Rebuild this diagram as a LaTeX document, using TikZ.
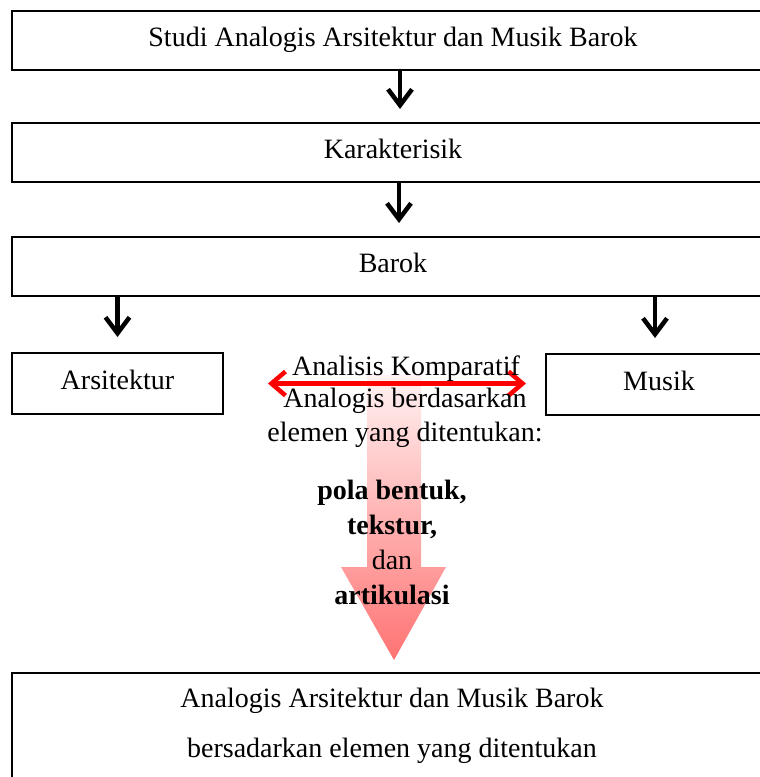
\documentclass[tikz,border=0pt]{standalone}
\usepackage{fontspec}
\setmainfont{Liberation Serif}
\usepackage{xcolor}
\usetikzlibrary{arrows.meta,positioning,calc}
\definecolor{BkHitam}{RGB}{0,0,0}
\definecolor{BkMerah}{HTML}{FF0000}
\definecolor{BkMerahMuda}{HTML}{FF7373}
\definecolor{BkPucat}{HTML}{FFF2F2}
\colorlet{BkGaris}{BkHitam}

\begin{document}
\begin{tikzpicture}[x=1pt,y=1pt,
    kotak/.style={draw=BkGaris, line width=2pt, inner sep=0pt, anchor=north west,
                  text height=19pt, text depth=7pt, font=\fontsize{28}{34}\selectfont},
    panah/.style={draw=BkGaris, line width=4.5pt,
                  -{Straight Barb[length=16pt,width=24pt]}},
    teks/.style={align=center, inner sep=0pt, font=\fontsize{28}{34}\selectfont}]
  \useasboundingbox (0,0) rectangle (760,-777);
  \clip (0,0) rectangle (760,-777);
  % panah besar bergradasi
  \shade[top color=BkPucat, bottom color=BkMerahMuda]
    (367,-375) -- (421,-375) -- (421,-567) -- (446,-567) -- (394,-660)
    -- (341,-567) -- (367,-567) -- cycle;
  \node[kotak, minimum width=762pt, minimum height=59pt] (studi) at (11,-10)
    {Studi Analogis Arsitektur dan Musik Barok};
  \node[kotak, minimum width=762pt, minimum height=59pt] (karak) at (11,-122)
    {Karakterisik};
  \node[kotak, minimum width=762pt, minimum height=59pt] (barok) at (11,-236)
    {Barok};
  \node[kotak, minimum width=211pt, minimum height=61pt] (arsi) at (11,-352)
    {Arsitektur};
  \node[kotak, minimum width=226pt, minimum height=61pt] (musik) at (545,-353)
    {Musik};
  \node[kotak, minimum width=762pt, minimum height=130pt] (hasil) at (11,-672) {};
  \draw[panah, shorten >=13pt] ([xshift=7pt]studi.south) -- ([xshift=7pt]karak.north);
  \draw[panah, shorten >=13pt] ([xshift=6pt]karak.south) -- ([xshift=6pt]barok.north);
  \draw[panah, shorten >=15pt] (barok.south -| arsi.north) -- (arsi.north);
  \draw[panah, shorten >=15pt] ([xshift=-4pt]barok.south -| musik.north) -- ([xshift=-4pt]musik.north);
  \draw[BkMerah, line width=4.5pt, shorten <=44pt, shorten >=19pt,
        {Straight Barb[length=14pt,width=24pt]}-{Straight Barb[length=14pt,width=24pt]}]
    (arsi.east) -- (arsi.east -| musik.west);
  \node[teks] (komparatif) at (406,-369) {Analisis Komparatif};
  \node[teks] (dasar) at (405,-418) {Analogis berdasarkan\\elemen yang ditentukan:};
  \node[teks, font=\fontsize{28}{35}\selectfont] (kriteria) at (392,-542)
    {\textbf{pola bentuk,}\\\textbf{tekstur,}\\dan\\\textbf{artikulasi}};
  \node[teks] (hasilteks) at (392,-726)
    {Analogis Arsitektur dan Musik Barok\\[16pt]bersadarkan elemen yang ditentukan};
\end{tikzpicture}
\end{document}
